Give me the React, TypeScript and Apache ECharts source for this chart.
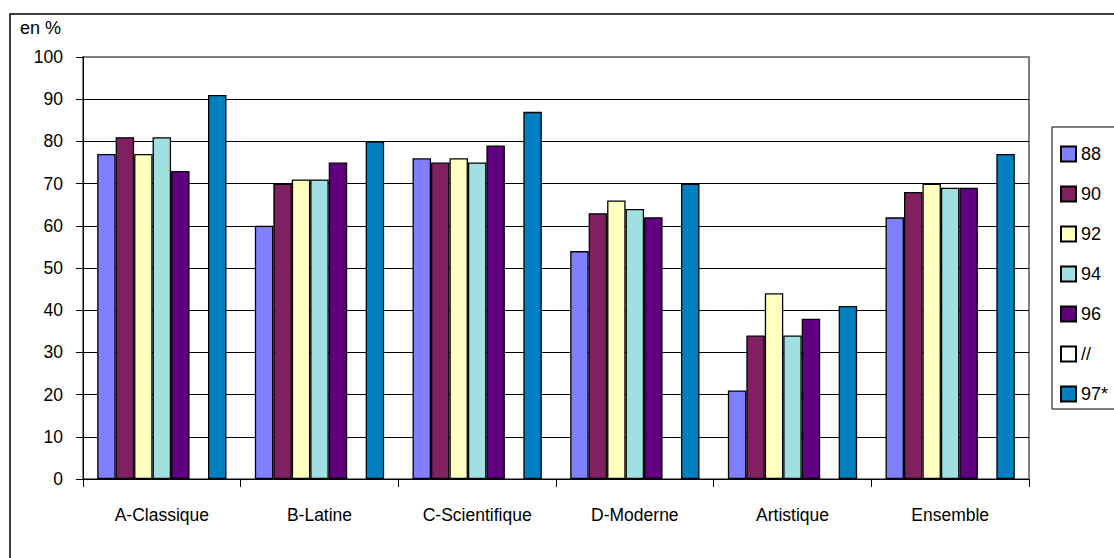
import React, { useEffect, useRef } from "react";
import * as echarts from "echarts";

const categories = ["A-Classique", "B-Latine", "C-Scientifique", "D-Moderne", "Artistique", "Ensemble"];
const seriesNames = ["88", "90", "92", "94", "96", "//", "97*"];
const v88 = [77, 60, 76, 54, 21, 62];
const v90 = [81, 70, 75, 63, 34, 68];
const v92 = [77, 71, 76, 66, 44, 70];
const v94 = [81, 71, 75, 64, 34, 69];
const v96 = [73, 75, 79, 62, 38, 69];
const vGap: (number | null)[] = [null, null, null, null, null, null];
const v97 = [91, 80, 87, 70, 41, 77];
const seriesValues = [v88, v90, v92, v94, v96, vGap, v97];
const colors = ["#8080FF", "#802060", "#FFFFC0", "#A0E0E0", "#600080", "#FFFFFF", "#0080C0"];
const yTicks = [0, 100, 10];

const FONT = "'Liberation Sans', Arial, sans-serif";

export default function App() {
  const ref = useRef<HTMLDivElement>(null);
  useEffect(() => {
    if (!ref.current) return;
    const chart = echarts.init(ref.current, undefined, { renderer: "svg" });
    chart.setOption({
      animation: false,
      backgroundColor: "#fff",
      textStyle: { fontFamily: FONT },
      grid: {
        left: 83,
        right: 85,
        top: 57,
        bottom: 79,
        show: true,
        borderColor: "#808080",
        borderWidth: 2,
        backgroundColor: "transparent",
      },
      legend: {
        orient: "vertical",
        left: 1055,
        top: 140,
        itemWidth: 15,
        itemHeight: 15,
        itemGap: 22,
        itemGap2: 0,
        icon: "rect",
        textStyle: { fontSize: 18, color: "#000", fontFamily: FONT, lineHeight: 18 },
        data: seriesNames,
      },
      xAxis: {
        type: "category",
        data: categories,
        axisLine: { lineStyle: { color: "#000", width: 1 } },
        axisTick: { show: true, length: 8, inside: false, lineStyle: { color: "#000" } },
        axisLabel: { color: "#000", fontSize: 17.5, margin: 27, fontFamily: FONT },
        splitLine: { show: false },
      },
      yAxis: {
        type: "value",
        min: yTicks[0],
        max: yTicks[1],
        interval: yTicks[2],
        axisLine: { show: true, lineStyle: { color: "#000", width: 1 } },
        axisTick: { show: true, length: 7, lineStyle: { color: "#000" } },
        axisLabel: { color: "#000", fontSize: 17.5, margin: 20, fontFamily: FONT },
        splitLine: { show: true, showMaxLine: false, lineStyle: { color: "#000", width: 1 } },
      },
      series: seriesNames.map((name, i) => ({
        name,
        type: "bar",
        data: seriesValues[i],
        barGap: "0%",
        barCategoryGap: "18%",
        itemStyle: { color: colors[i], borderColor: "#000", borderWidth: 1.3 },
      })),
      graphic: [
        {
          type: "rect",
          shape: { x: 10, y: 14, width: 1200, height: 600 },
          style: { fill: "none", stroke: "#000", lineWidth: 1.5 },
          silent: true,
        },
        {
          type: "rect",
          shape: { x: 1052, y: 127, width: 100, height: 282 },
          style: { fill: "none", stroke: "#000", lineWidth: 1 },
          silent: true,
        },
        {
          type: "text",
          left: 20,
          top: 19,
          style: { text: "en %", fontSize: 18, fill: "#000", fontFamily: FONT },
        },
      ],
    });
    return () => chart.dispose();
  }, []);
  return (
    <div
      ref={ref}
      style={{ position: "absolute", left: 0, top: 0, width: 1114, height: 558 }}
    />
  );
}
